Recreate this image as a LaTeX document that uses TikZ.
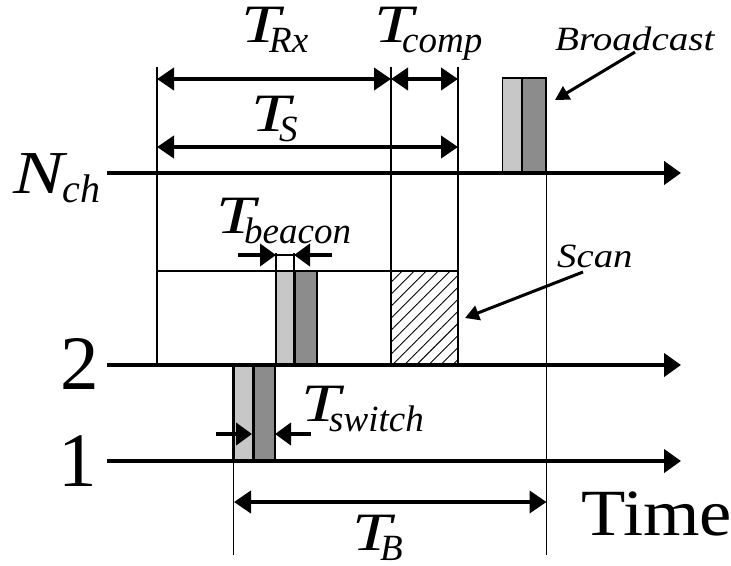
\documentclass[tikz,border=0pt]{standalone}
\usepackage{graphicx}
\usepackage{fontspec}
\setmainfont{Liberation Serif}
\usetikzlibrary{arrows.meta,patterns.meta}
\newcommand\fs[1]{\fontsize{#1}{#1}\selectfont}
\newcommand\Tsub[1]{{\fs{54}\itshape\scalebox{1.3}[1]{T}\kern-11pt\raisebox{-10pt}{\fs{37}#1}}}
\begin{document}
\begin{tikzpicture}[x=1pt,y=-1pt,
  axis/.style={line width=4.5pt,-{Triangle[length=17pt,width=23pt]}},
  dimarrow/.style={line width=4pt,{Triangle[length=17pt,width=22pt]}-{Triangle[length=17pt,width=22pt]}},
  onearrow/.style={line width=4pt,-{Triangle[length=16pt,width=22pt]}},
  pointer/.style={line width=3pt,-{Triangle[length=14pt,width=15pt]}},
  thinline/.style={line width=1.8pt},
  light/.style={fill=black!22,draw=black,line width=1.8pt},
  dark/.style={fill=black!45,draw=black,line width=1.8pt},
  lab/.style={inner sep=0pt,anchor=base west},
]
\useasboundingbox (0,0) rectangle (731,565);
% coordinates
\coordinate (v1t) at (157,67);   \coordinate (v1b) at (157,364);
\coordinate (v2t) at (391,67);   \coordinate (v2b) at (391,364);
\coordinate (v3t) at (458,67);   \coordinate (v3b) at (458,364);
\coordinate (v4t) at (546.5,173); \coordinate (v4b) at (546.5,555);
\coordinate (v5t) at (233.5,364); \coordinate (v5b) at (233.5,555);
% boxes
\draw[light] (502.5,78) rectangle (522,173);
\draw[dark] (522,78) rectangle (546,173);
\draw[thinline] (157,271) -- (458,271);
\fill[pattern={Lines[angle=45,distance=8.5pt,line width=0.9pt]}] (391,271) rectangle (458,364);
\draw[light] (276,271) rectangle (294,364);
\draw[dark] (294,271) rectangle (317,364);
\draw[line width=3pt] (294,271) -- (294,364);
\draw[light] (234,364) rectangle (253,461);
\draw[dark] (253,364) rectangle (275,461);
\draw[line width=3pt] (253,364) -- (253,461);
% vertical lines
\draw[thinline] (v1t) -- (v1b);
\draw[thinline] (v2t) -- (v2b);
\draw[thinline] (v3t) -- (v3b);
\draw[thinline] (v4t) -- (v4b);
\draw[line width=2.5pt] (v5t) -- (233.5,461);
\draw[thinline] (233.5,461) -- (v5b);
% beacon marks
\coordinate (bl) at (276,255); \coordinate (br) at (294,255);
\draw[line width=1.2pt] (276,253) -- (276,271);
\draw[line width=1.2pt] (294,253) -- (294,271);
\draw[line width=1.2pt] (bl) -- (br);
\draw[onearrow] (238,255) -- (bl);
\draw[onearrow] (332,255) -- (br);
% switch marks
\draw[onearrow] (216,434) -- (252,434);
\draw[onearrow] (311,434) -- (275,434);
% axes
\coordinate (a3s) at (107,173); \coordinate (a3e) at (681,173);
\coordinate (a2s) at (107,365); \coordinate (a2e) at (681,365);
\coordinate (a1s) at (107,461); \coordinate (a1e) at (681,461);
\draw[axis] (a3s) -- (a3e);
\draw[axis] (a2s) -- (a2e);
\draw[axis] (a1s) -- (a1e);
% dimension arrows
\draw[dimarrow] (157,79) -- (391,79);
\draw[dimarrow] (391,79) -- (458,79);
\draw[dimarrow] (157,147) -- (458,147);
\draw[dimarrow] (234,502) -- (546.5,502);
% labels
\node[lab] (trx) at (241,42) {\Tsub{Rx}};
\node[lab] (tcomp) at (374,42) {\Tsub{comp}};
\node[lab] (ts) at (251,131.5) {\Tsub{S}};
\node[lab] (tbeacon) at (216,233) {\Tsub{beacon}};
\node[lab] (tswitch) at (301,421.5) {\Tsub{switch}};
\node[lab] (tb) at (352,550) {\Tsub{B}};
\node[lab] (bc) at (555,50) {\fs{34}\itshape\scalebox{1.15}[1]{Broadcast}};
\node[lab] (scan) at (557,267) {\fs{34}\itshape\scalebox{1.14}[1]{Scan}};
\node[lab] (time) at (581,535) {\fs{66}\scalebox{1.1}[1]{Time}};
\node[lab] (nch) at (13.5,193) {\fs{61}\itshape\scalebox{1.25}[1]{N}\kern-2pt\raisebox{-9pt}{\fs{40}ch}};
\node[lab] (two) at (60,389) {\fs{77}2};
\node[lab] (one) at (58,486.5) {\fs{77}1};
% pointers
\coordinate (bcp) at (555,100);
\coordinate (scp) at (465,318);
\draw[pointer] (635,52) -- (bcp);
\draw[pointer] (583,272) -- (scp);
\end{tikzpicture}
\end{document}
